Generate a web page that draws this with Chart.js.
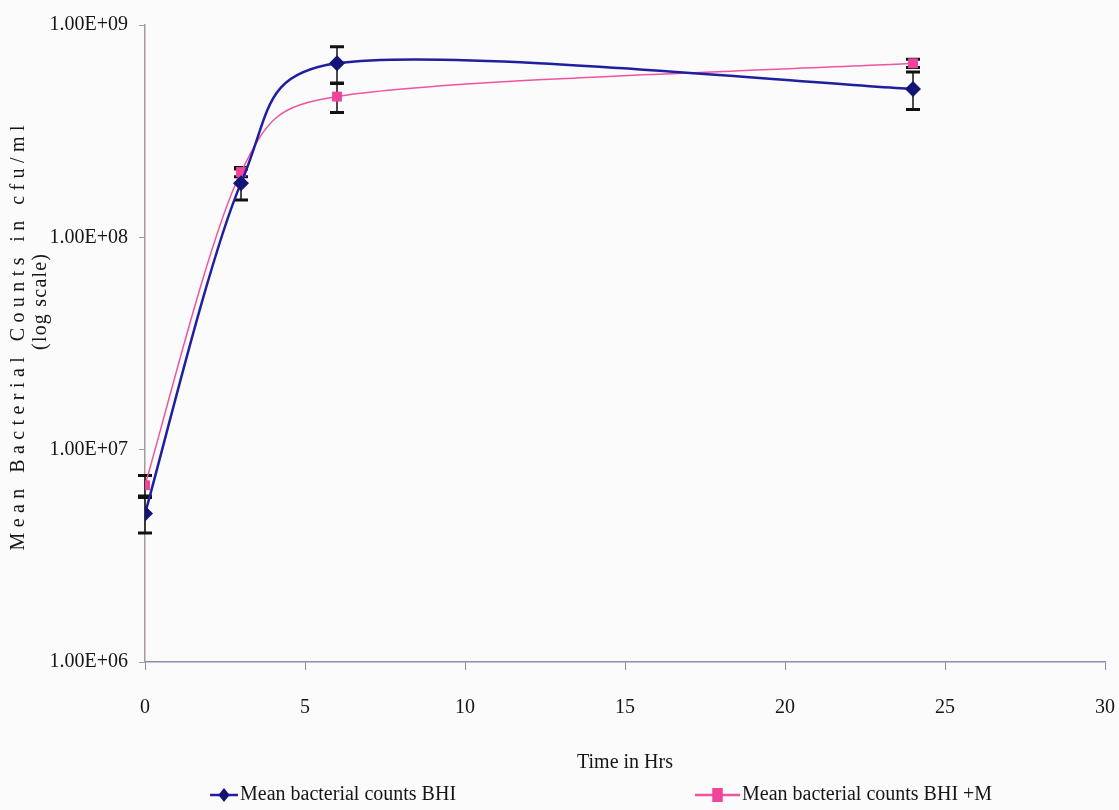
<!DOCTYPE html>
<html>
<head>
<meta charset="utf-8">
<script src="https://cdn.jsdelivr.net/npm/chart.js@4.4.1/dist/chart.umd.min.js"></script>
<style>
  html, body { margin: 0; padding: 0; background: #fafbfa; }
  #wrap { width: 1119px; height: 810px; }
</style>
</head>
<body>
<div id="wrap"><canvas id="growthChart"></canvas></div>
<script>

const hours = [0, 3, 6, 24];

const bhiMeans = [5.0e6, 1.8e8, 6.6e8, 5.0e8];
const bhiErrors = [0.95e6, 0.3e8, 1.3e8, 1.0e8];

const bhiMMeans = [6.8e6, 2.03e8, 4.6e8, 6.6e8];
const bhiMErrors = [0.75e6, 0.1e8, 0.73e8, 0.3e8];

const seriesNames = ['Mean bacterial counts BHI', 'Mean bacterial counts BHI +M'];

const xTickValues = [0, 5, 10, 15, 20, 25, 30];
const yTickValues = [1e6, 1e7, 1e8, 1e9];
const yTickLabels = ['1.00E+06', '1.00E+07', '1.00E+08', '1.00E+09'];

const yTitleLines = ['Mean Bacterial Counts in cfu/ml', '(log scale)'];
const xTitle = 'Time in Hrs';


const colors = {
    blueLine: '#1f1fa0',
    blueMark: '#141478',
    pinkLine: '#f0549e',
    pinkMark: '#f0449a',
    error: '#111111',
    axisX: '#8c8cae',
    axisY: '#a89a9c',
    text: '#151515',
    bg: '#fafbfa'
};

const serif = "'Liberation Serif', 'Times New Roman', serif";


const background = {
    id: 'background',
    beforeDraw(chart) {
        const { ctx, width, height } = chart;
        ctx.save();
        ctx.fillStyle = colors.bg;
        ctx.fillRect(0, 0, width, height);
        ctx.restore();
    }
};


// spreadsheet-style smoothing: control points at 1/6 of the neighbour chord,
// clamped to half the segment length
const spreadsheetSmoothing = {
    id: 'spreadsheetSmoothing',
    beforeDatasetsDraw(chart) {
        chart.data.datasets.forEach((ds, di) => {
            const meta = chart.getDatasetMeta(di);
            const line = meta.dataset;
            line.updateControlPoints(chart.chartArea, 'x');
            const pts = meta.data;
            for (let i = 0; i < pts.length - 1; i++) {
                const p0 = pts[i - 1] || pts[i];
                const p1 = pts[i];
                const p2 = pts[i + 1];
                const p3 = pts[i + 2] || pts[i + 1];
                const d02 = Math.hypot(p2.x - p0.x, p2.y - p0.y);
                const d12 = Math.hypot(p2.x - p1.x, p2.y - p1.y);
                const d13 = Math.hypot(p3.x - p1.x, p3.y - p1.y);
                const f = d02 / 6 > d12 / 2 ? d12 / (2 * d02) : 1 / 6;
                const g = d13 / 6 > d12 / 2 ? d12 / (2 * d13) : 1 / 6;
                p1.cp2x = p1.x + f * (p2.x - p0.x);
                p1.cp2y = p1.y + f * (p2.y - p0.y);
                p2.cp1x = p2.x - g * (p3.x - p1.x);
                p2.cp1y = p2.y - g * (p3.y - p1.y);
            }
            line._path = undefined;
        });
    }
};


const errorBars = {
    id: 'errorBars',
    beforeDatasetsDraw(chart) {
        const { ctx, scales: { x, y } } = chart;
        ctx.save();
        ctx.strokeStyle = colors.error;
        chart.data.datasets.forEach(ds => {
            ds.data.forEach((p, i) => {
                const err = ds.errors[i];
                const px = x.getPixelForValue(p.x);
                const top = y.getPixelForValue(p.y + err);
                const bot = y.getPixelForValue(p.y - err);
                ctx.lineWidth = 1.5;
                ctx.beginPath();
                ctx.moveTo(px, top);
                ctx.lineTo(px, bot);
                ctx.stroke();
                ctx.lineWidth = 3;
                ctx.beginPath();
                ctx.moveTo(px - 7, top);
                ctx.lineTo(px + 7, top);
                ctx.moveTo(px - 7, bot);
                ctx.lineTo(px + 7, bot);
                ctx.stroke();
            });
        });
        ctx.restore();
    }
};


function drawMarker(ctx, style, cx, cy, r, color) {
    ctx.fillStyle = color;
    ctx.beginPath();
    if (style === 'rectRot') {
        ctx.moveTo(cx, cy - r);
        ctx.lineTo(cx + r * 0.8, cy);
        ctx.lineTo(cx, cy + r);
        ctx.lineTo(cx - r * 0.8, cy);
        ctx.closePath();
    } else {
        ctx.rect(cx - r * 0.75, cy - r, r * 1.5, r * 2);
    }
    ctx.fill();
}


const bottomLegend = {
    id: 'bottomLegend',
    afterDraw(chart) {
        const { ctx } = chart;
        const items = [
            { x: 210, w: 28, ds: chart.data.datasets[0] },
            { x: 695, w: 45, ds: chart.data.datasets[1] }
        ];
        const cy = 795;
        ctx.save();
        items.forEach(it => {
            ctx.strokeStyle = it.ds.borderColor;
            ctx.lineWidth = 2.5;
            ctx.beginPath();
            ctx.moveTo(it.x, cy);
            ctx.lineTo(it.x + it.w, cy);
            ctx.stroke();
            drawMarker(ctx, it.ds.pointStyle, it.x + it.w / 2, cy, 7, it.ds.pointBackgroundColor);
            ctx.fillStyle = colors.text;
            ctx.font = '20px ' + serif;
            ctx.textAlign = 'left';
            ctx.textBaseline = 'middle';
            ctx.fillText(it.ds.label, it.x + it.w + 2, cy);
        });
        ctx.restore();
    }
};


const yTitle = {
    id: 'yTitle',
    afterDraw(chart) {
        const { ctx } = chart;
        const lines = [
            { text: yTitleLines[0], cx: 19, cy: 338, len: 425 },
            { text: yTitleLines[1], cx: 41, cy: 302, len: 96 }
        ];
        ctx.save();
        ctx.fillStyle = colors.text;
        ctx.font = '20px ' + serif;
        ctx.textBaseline = 'middle';
        ctx.textAlign = 'left';
        lines.forEach(l => {
            ctx.letterSpacing = '0px';
            const natural = ctx.measureText(l.text).width;
            const spacing = Math.max(0, (l.len - natural) / (l.text.length - 1));
            ctx.letterSpacing = spacing + 'px';
            ctx.save();
            ctx.translate(l.cx, l.cy);
            ctx.rotate(-Math.PI / 2);
            ctx.fillText(l.text, -l.len / 2, 0);
            ctx.restore();
        });
        ctx.restore();
    }
};


const ctx = document.getElementById('growthChart');

new Chart(ctx, {
    type: 'line',
    data: {
        datasets: [
            {
                label: seriesNames[0],
                data: hours.map((h, i) => ({ x: h, y: bhiMeans[i] })),
                errors: bhiErrors,
                borderColor: colors.blueLine,
                borderWidth: 2.5,
                pointStyle: 'rectRot',
                pointRadius: 8,
                pointBackgroundColor: colors.blueMark,
                pointBorderColor: colors.blueMark,
                pointBorderWidth: 0,
                tension: 0.4,
                fill: false
            },
            {
                label: seriesNames[1],
                data: hours.map((h, i) => ({ x: h, y: bhiMMeans[i] })),
                errors: bhiMErrors,
                borderColor: colors.pinkLine,
                borderWidth: 1.5,
                pointStyle: 'rect',
                pointRadius: 7,
                pointBackgroundColor: colors.pinkMark,
                pointBorderColor: colors.pinkMark,
                pointBorderWidth: 0,
                tension: 0.4,
                fill: false
            }
        ]
    },
    options: {
        responsive: true,
        maintainAspectRatio: false,
        animation: false,
        layout: {
            padding: { left: 0, right: 14, top: 25, bottom: 35 }
        },
        plugins: {
            legend: { display: false },
            tooltip: { enabled: false }
        },
        scales: {
            x: {
                type: 'linear',
                min: 0,
                max: 30,
                afterBuildTicks(scale) {
                    scale.ticks = xTickValues.map(v => ({ value: v }));
                },
                afterFit(scale) {
                    scale.height = 113;
                    scale.paddingLeft = 0;
                    scale.paddingRight = 0;
                },
                ticks: {
                    color: colors.text,
                    font: { family: serif, size: 20 },
                    padding: 26
                },
                grid: {
                    drawOnChartArea: false,
                    tickLength: 8,
                    tickColor: colors.axisX
                },
                border: { color: colors.axisX, width: 1.5 },
                title: {
                    display: true,
                    text: xTitle,
                    color: colors.text,
                    font: { family: serif, size: 20 },
                    padding: { top: 0, bottom: 0 }
                }
            },
            y: {
                type: 'logarithmic',
                min: 1e6,
                max: 1e9,
                afterBuildTicks(scale) {
                    scale.ticks = yTickValues.map(v => ({ value: v, major: true }));
                },
                afterFit(scale) {
                    scale.width = 145;
                },
                ticks: {
                    color: colors.text,
                    font: { family: serif, size: 20 },
                    padding: 11,
                    callback: value => yTickLabels[yTickValues.indexOf(value)]
                },
                grid: {
                    drawOnChartArea: false,
                    tickLength: 6,
                    tickColor: colors.axisY
                },
                border: { color: colors.axisY, width: 1.5 }
            }
        }
    },
    plugins: [background, spreadsheetSmoothing, errorBars, bottomLegend, yTitle]
});
</script>
</body>
</html>
